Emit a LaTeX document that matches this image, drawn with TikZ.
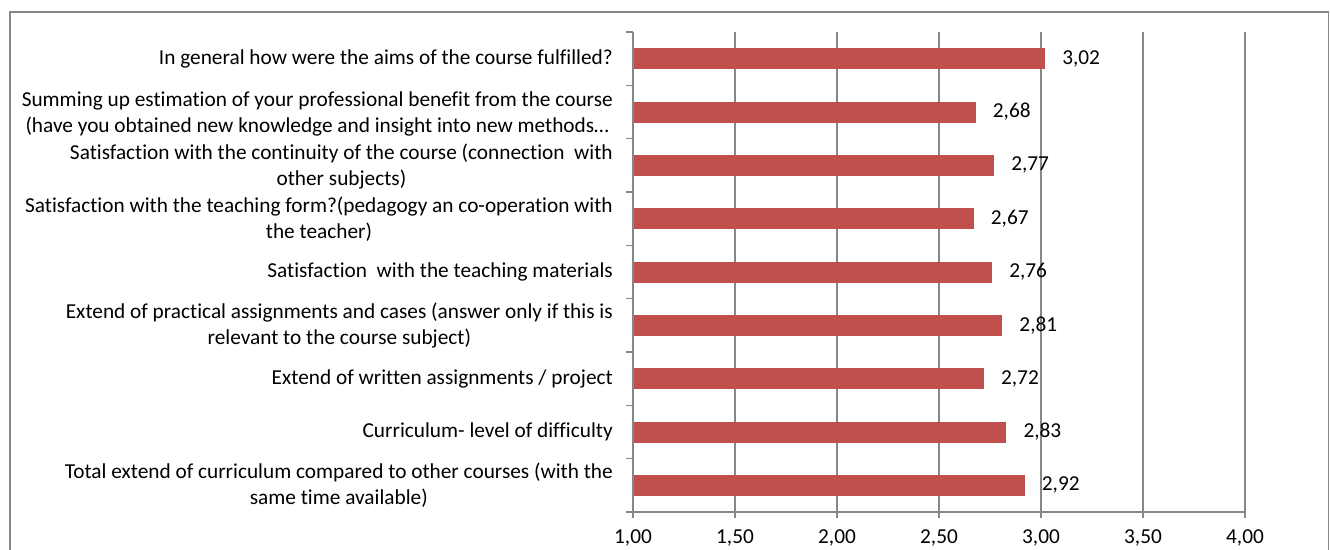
\documentclass[tikz,border=0pt]{standalone}
\usepackage{fontspec}
\setmainfont[Ligatures=NoCommon]{Carlito}
\definecolor{barred}{HTML}{C0504D}
\definecolor{gridgray}{HTML}{878787}
\begin{document}
\begin{tikzpicture}[x=1pt,y=-1pt,
  frame/.style={draw=gridgray,line width=1.5pt},
  gridline/.style={draw=gridgray,line width=1.5pt},
  bar/.style={fill=barred},
  catlabel/.style={anchor=east,align=center,inner sep=0pt,font=\fontsize{21.3}{26}\selectfont},
  vallabel/.style={anchor=west,inner sep=0pt,font=\fontsize{21.3}{26}\selectfont},
  axlabel/.style={anchor=center,inner sep=0pt,font=\fontsize{21.3}{26}\selectfont}]
\useasboundingbox (0,0) rectangle (1330,549);
\clip (0,0) rectangle (1330,549);
\draw[frame] (10,12) rectangle (1328.5,600);
% gridlines
\foreach \k in {1,...,6}{
  \draw[gridline] (633+102*\k,32) -- (633+102*\k,512);
}
% bottom ticks and labels
\foreach \k/\t in {0/{1,00},1/{1,50},2/{2,00},3/{2,50},4/{3,00},5/{3,50},6/{4,00}}{
  \draw[gridline] (633+102*\k,512) -- (633+102*\k,518);
  \node[axlabel] (ax\k) at (633+102*\k,538) {\t};
}
% axes
\draw[gridline] (633,32) -- (633,512);
\draw[gridline] (633,512) -- (1245,512);
\foreach \j in {0,...,9}{
  \draw[gridline] (626,32+53.3333*\j) -- (633,32+53.3333*\j);
}
% bars and value labels
\foreach \i/\v/\t in {1/3.02/{3,02},2/2.68/{2,68},3/2.77/{2,77},4/2.67/{2,67},5/2.76/{2,76},6/2.81/{2,81},7/2.72/{2,72},8/2.83/{2,83},9/2.92/{2,92}}{
  \pgfmathsetmacro\yc{32+53.3333*(\i-0.5)}
  \pgfmathsetmacro\xe{633+(\v-1)*204}
  \fill[bar] (633.8,\yc-10.5) rectangle (\xe,\yc+10.5);
  \node[vallabel] (v\i) at (\xe+17,\yc) {\t};
}
% category labels
\node[catlabel] (c1) at (613,58.67) {In general how were the aims of the course fulfilled?};
\node[catlabel] (c2) at (613,114) {Summing up estimation of your professional benefit from the course\\(have you obtained new knowledge and insight into new methods…};
\node[catlabel] (c3) at (613,166.5) {Satisfaction with the continuity of the course (connection~ with\\other subjects)};
\node[catlabel] (c4) at (613,218.7) {Satisfaction with the teaching form?(pedagogy an co-operation with\\the teacher)};
\node[catlabel] (c5) at (613,272) {Satisfaction~ with the teaching materials};
\node[catlabel] (c6) at (613,325.3) {Extend of practical assignments and cases (answer only if this is\\relevant to the course subject)};
\node[catlabel] (c7) at (613,378.7) {Extend of written assignments / project};
\node[catlabel] (c8) at (613,432) {Curriculum- level of difficulty};
\node[catlabel] (c9) at (613,485.3) {Total extend of curriculum compared to other courses (with the\\same time available)};
\end{tikzpicture}
\end{document}
